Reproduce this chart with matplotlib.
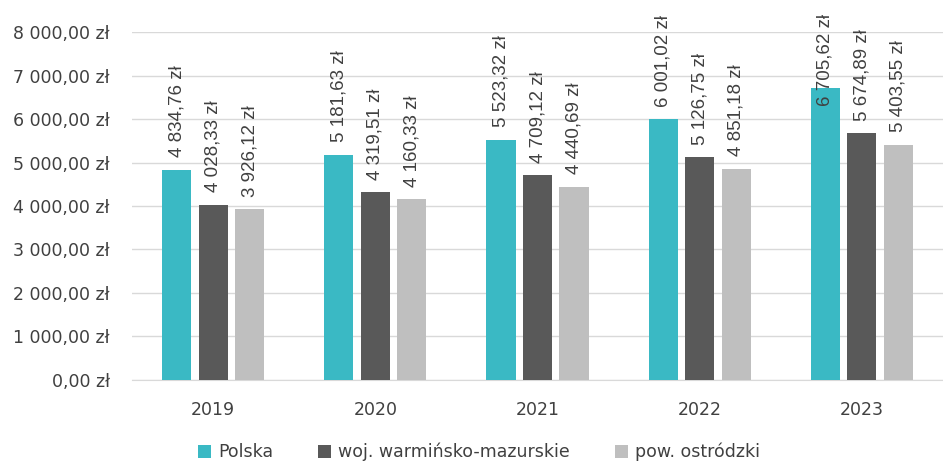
import numpy as np
import matplotlib
matplotlib.use('Agg')
import matplotlib.pyplot as plt

plt.rcParams['font.family'] = ['DejaVu Sans']

# dane
years = ['2019', '2020', '2021', '2022', '2023']
polska = [4834.76, 5181.63, 5523.32, 6001.02, 6705.62]
woj = [4028.33, 4319.51, 4709.12, 5126.75, 5674.89]
pow_ = [3926.12, 4160.33, 4440.69, 4851.18, 5403.55]
series_names = ['Polska', 'woj. warmińsko-mazurskie', 'pow. ostródzki']
colors = ['#3AB9C4', '#595959', '#BFBFBF']

def fmt(v):
    s = f'{v:,.2f}'
    s = s.replace(',', ' ').replace('.', ',')
    return s + ' zł'

fig = plt.figure(figsize=(9.43, 4.66), dpi=100)
ax = fig.add_axes([0.14, 0.185, 0.86, 0.746])

x = np.arange(len(years))
w = 0.18
step = 0.225
labels = []
for i, (vals, name, c) in enumerate(zip([polska, woj, pow_], series_names, colors)):
    pos = x + (i - 1) * step
    bars = ax.bar(pos, vals, width=w, color=c, label=name, zorder=3)
    for b, v in zip(bars, vals):
        t = ax.annotate(fmt(v), (b.get_x() + b.get_width() / 2, v),
                        xytext=(0, 9), textcoords='offset points',
                        rotation=90, ha='center', va='bottom',
                        fontsize=13.5, color='#404040', zorder=4,
                        family=['Liberation Sans', 'DejaVu Sans'])
        labels.append(t)

ax.set_ylim(0, 8000)
ax.set_xlim(-0.5, len(years) - 0.5)
ax.set_yticks(np.arange(0, 8001, 1000))
ax.set_yticklabels([fmt(v) for v in np.arange(0, 8001, 1000)])
ax.set_xticks(x)
ax.set_xticklabels(years)
ax.tick_params(axis='both', length=0, labelsize=12.5, labelcolor='#404040')
ax.tick_params(axis='x', pad=15)
ax.tick_params(axis='y', pad=16)
ax.yaxis.grid(True, color='#D9D9D9', linewidth=1, zorder=0)
for s in ['top', 'right', 'left']:
    ax.spines[s].set_visible(False)
ax.spines['bottom'].set_color('#D9D9D9')

ax.legend(loc='lower center', bbox_to_anchor=(0.428, -0.255), ncol=3,
          frameon=False, fontsize=12.5, handlelength=0.75, handleheight=0.75,
          columnspacing=2.6, handletextpad=0.4, labelcolor='#404040',
          borderaxespad=0)

# etykiety wychodzace poza rysunek przesun w dol (jak w Excelu)
fig.canvas.draw()
H = fig.bbox.height
for t in labels:
    bb = t.get_window_extent()
    if bb.y1 > H - 14:
        dx, dy = t.xyann
        t.xyann = (dx, dy - (bb.y1 - (H - 14)) * 72 / fig.dpi)

fig.savefig('out.png', dpi=100)
